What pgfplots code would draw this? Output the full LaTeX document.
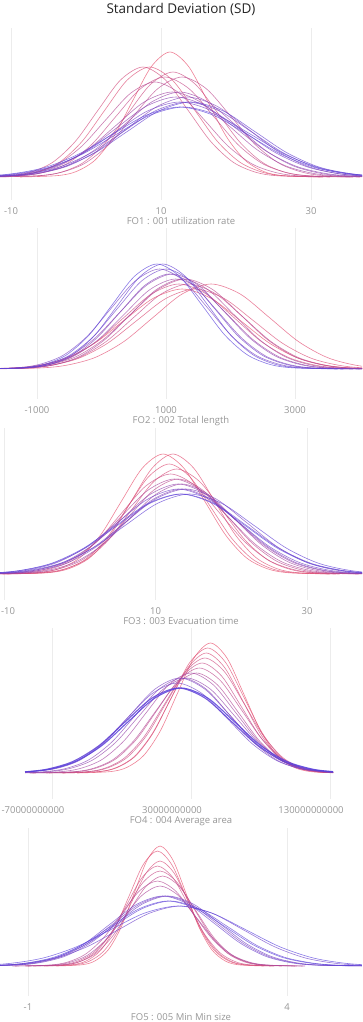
\documentclass[border=0pt]{standalone}
\usepackage{fontspec}
\setmainfont{Open Sans}
\usepackage{pgfplots}
\pgfplotsset{compat=1.18}
\definecolor{sdR}{RGB}{232,76,106}
\definecolor{sdB}{RGB}{88,64,220}
\definecolor{lblgray}{RGB}{150,150,150}
\definecolor{gridgray}{RGB}{236,236,236}
\definecolor{titlecol}{RGB}{37,37,37}
\pgfplotsset{
  cv/.style={smooth, line width=0.6pt, draw opacity=0.7, draw=sdB!#1!sdR, mark=none},
  cvthick/.style={smooth, line width=1.1pt, draw opacity=0.85, draw=sdB!#1!sdR, mark=none},
  sdpanel/.style={
    anchor=north west, scale only axis, width=362pt,
    axis line style={draw=none}, major tick length=0pt,
    ytick=\empty, xmajorgrids, major grid style={gridgray, line width=0.7pt},
    tick label style={font=\fontsize{9.5}{11}\selectfont, text=lblgray},
    xticklabel style={anchor=base, yshift=-14.5pt},
    xlabel style={at={(axis description cs:0.5,0)}, anchor=base, yshift=-24.5pt, font=\fontsize{9.5}{11}\selectfont, text=lblgray},
  },
}
\begin{document}
\begin{tikzpicture}
\useasboundingbox (0,0) rectangle (362pt,-1022pt);
\clip (0,0) rectangle (362pt,-1022pt);
\node[anchor=base, font=\fontsize{13.5}{15}\selectfont, text=titlecol] at (181pt,-13.5pt) {Standard Deviation (SD)};

% ---------------- Panel 1
\begin{axis}[sdpanel, at={(0pt,-28pt)}, height=172pt, xmin=-11.467, xmax=36.8, ymin=-23, ymax=149,
  xtick={-10,10,30}, xticklabels={-10,10,30}, xlabel={FO1 : 001 utilization rate}]
\addplot[cv=0] coordinates {(-8.8,0) (-3.8,1.4) (-1.3,5.5) (1.2,16.9) (3.7,40.6) (6.2,75.9) (8.7,110.3) (11.2,125) (13.7,110.3) (16.2,75.9) (18.7,40.6) (21.2,16.9) (23.7,5.5) (26.2,1.4) (31.2,0)};
\addplot[cv=8] coordinates {(-15.5,0) (-9.5,1.2) (-6.5,4.8) (-3.5,14.9) (-0.5,35.8) (2.5,66.8) (5.5,97.0) (8.5,110) (11.5,97.0) (14.5,66.8) (17.5,35.8) (20.5,14.9) (23.5,4.8) (26.5,1.2) (32.5,0)};
\addplot[cv=15] coordinates {(-16.4,0) (-10.4,1.2) (-7.4,4.8) (-4.4,14.9) (-1.4,35.8) (1.6,66.8) (4.6,97.0) (7.6,110) (10.6,97.0) (13.6,66.8) (16.6,35.8) (19.6,14.9) (22.6,4.8) (25.6,1.2) (31.6,0)};
\addplot[cv=20] coordinates {(-12.4,0) (-6.4,1.2) (-3.4,4.6) (-0.4,14.2) (2.6,34.1) (5.6,63.7) (8.6,92.6) (11.6,105) (14.6,92.6) (17.6,63.7) (20.6,34.1) (23.6,14.2) (26.6,4.6) (29.6,1.2) (35.6,0)};
\addplot[cv=25] coordinates {(-15.5,0) (-9,1.1) (-5.75,4.4) (-2.5,13.5) (0.75,32.5) (4,60.7) (7.25,88.2) (10.5,100) (13.75,88.2) (17,60.7) (20.25,32.5) (23.5,13.5) (26.75,4.4) (30,1.1) (36.5,0)};
\addplot[cv=30] coordinates {(-13.2,0) (-6.7,1.1) (-3.45,4.4) (-0.2,13.5) (3.05,32.5) (6.3,60.7) (9.55,88.2) (12.8,100) (16.05,88.2) (19.3,60.7) (22.55,32.5) (25.8,13.5) (29.05,4.4) (32.3,1.1) (38.8,0)};
\addplot[cv=35] coordinates {(-16.8,0) (-10.3,1.0) (-7.05,4.2) (-3.8,12.8) (-0.55,30.9) (2.7,57.7) (5.95,83.8) (9.2,95) (12.45,83.8) (15.7,57.7) (18.95,30.9) (22.2,12.8) (25.45,4.2) (28.7,1.0) (35.2,0)};
\addplot[cv=50] coordinates {(-18.5,0) (-11,0.9) (-7.25,3.7) (-3.5,11.5) (0.25,27.6) (4,51.6) (7.75,75.0) (11.5,85) (15.25,75.0) (19,51.6) (22.75,27.6) (26.5,11.5) (30.25,3.7) (34,0.9) (41.5,0)};
\addplot[cv=55] coordinates {(-17.5,0) (-10,0.9) (-6.25,3.7) (-2.5,11.5) (1.25,27.6) (5,51.6) (8.75,75.0) (12.5,85) (16.25,75.0) (20,51.6) (23.75,27.6) (27.5,11.5) (31.25,3.7) (35,0.9) (42.5,0)};
\addplot[cv=65] coordinates {(-20,0) (-12,0.9) (-8,3.5) (-4,10.8) (0,26.0) (4,48.6) (8,70.6) (12,80) (16,70.6) (20,48.6) (24,26.0) (28,10.8) (32,3.5) (36,0.9) (44,0)};
\addplot[cv=70] coordinates {(-18.5,0) (-10.5,0.9) (-6.5,3.5) (-2.5,10.8) (1.5,26.0) (5.5,48.6) (9.5,70.6) (13.5,80) (17.5,70.6) (21.5,48.6) (25.5,26.0) (29.5,10.8) (33.5,3.5) (37.5,0.9) (45.5,0)};
\addplot[cv=80] coordinates {(-21.5,0) (-13,0.8) (-8.75,3.3) (-4.5,10.1) (-0.25,24.4) (4,45.5) (8.25,66.2) (12.5,75) (16.75,66.2) (21,45.5) (25.25,24.4) (29.5,10.1) (33.75,3.3) (38,0.8) (46.5,0)};
\addplot[cv=85] coordinates {(-20.5,0) (-12,0.8) (-7.75,3.3) (-3.5,10.1) (0.75,24.4) (5,45.5) (9.25,66.2) (13.5,75) (17.75,66.2) (22,45.5) (26.25,24.4) (30.5,10.1) (34.75,3.3) (39,0.8) (47.5,0)};
\addplot[cv=90] coordinates {(-20,0) (-11.5,0.8) (-7.25,3.3) (-3,10.1) (1.25,24.4) (5.5,45.5) (9.75,66.2) (14,75) (18.25,66.2) (22.5,45.5) (26.75,24.4) (31,10.1) (35.25,3.3) (39.5,0.8) (48,0)};
\addplot[cv=95] coordinates {(-23,0) (-14,0.8) (-9.5,3.1) (-5,9.5) (-0.5,22.8) (4,42.5) (8.5,61.7) (13,70) (17.5,61.7) (22,42.5) (26.5,22.8) (31,9.5) (35.5,3.1) (40,0.8) (49,0)};
\addplot[cv=100] coordinates {(-23.5,0) (-14.5,0.8) (-10,3.1) (-5.5,9.5) (-1,22.8) (3.5,42.5) (8,61.7) (12.5,70) (17,61.7) (21.5,42.5) (26,22.8) (30.5,9.5) (35,3.1) (39.5,0.8) (48.5,0)};
\end{axis}

% ---------------- Panel 2
\begin{axis}[sdpanel, at={(0pt,-228pt)}, height=171pt, xmin=-1573.6, xmax=4038.8, ymin=-30, ymax=141,
  xtick={-1000,1000,3000}, xticklabels={-1000,1000,3000}, xlabel={FO2 : 002 Total length}]
\addplot[cv=0] coordinates {(-2350,0) (-1450,0.9) (-1000,3.5) (-550,10.8) (-100,26.0) (350,48.6) (800,70.6) (1250,80) (1700,70.6) (2150,48.6) (2600,26.0) (3050,10.8) (3500,3.5) (3950,0.9) (4850,0)};
\addplot[cv=5] coordinates {(-1900,0) (-1000,0.9) (-550,3.7) (-100,11.5) (350,27.6) (800,51.6) (1250,75.0) (1700,85) (2150,75.0) (2600,51.6) (3050,27.6) (3500,11.5) (3950,3.7) (4400,0.9) (5300,0)};
\addplot[cv=10] coordinates {(-2150,0) (-1250,0.9) (-800,3.5) (-350,10.8) (100,26.0) (550,48.6) (1000,70.6) (1450,80) (1900,70.6) (2350,48.6) (2800,26.0) (3250,10.8) (3700,3.5) (4150,0.9) (5050,0)};
\addplot[cv=18] coordinates {(-2200,0) (-1350,0.9) (-925,3.7) (-500,11.5) (-75,27.6) (350,51.6) (775,75.0) (1200,85) (1625,75.0) (2050,51.6) (2475,27.6) (2900,11.5) (3325,3.7) (3750,0.9) (4600,0)};
\addplot[cv=25] coordinates {(-2050,0) (-1200,0.9) (-775,3.7) (-350,11.5) (75,27.6) (500,51.6) (925,75.0) (1350,85) (1775,75.0) (2200,51.6) (2625,27.6) (3050,11.5) (3475,3.7) (3900,0.9) (4750,0)};
\addplot[cv=32] coordinates {(-2100,0) (-1250,1.0) (-825,4.0) (-400,12.2) (25,29.3) (450,54.6) (875,79.4) (1300,90) (1725,79.4) (2150,54.6) (2575,29.3) (3000,12.2) (3425,4.0) (3850,1.0) (4700,0)};
\addplot[cv=42] coordinates {(-1950,0) (-1150,1.0) (-750,4.0) (-350,12.2) (50,29.3) (450,54.6) (850,79.4) (1250,90) (1650,79.4) (2050,54.6) (2450,29.3) (2850,12.2) (3250,4.0) (3650,1.0) (4450,0)};
\addplot[cv=52] coordinates {(-2050,0) (-1250,1.0) (-850,4.0) (-450,12.2) (-50,29.3) (350,54.6) (750,79.4) (1150,90) (1550,79.4) (1950,54.6) (2350,29.3) (2750,12.2) (3150,4.0) (3550,1.0) (4350,0)};
\addplot[cv=62] coordinates {(-2100,0) (-1300,1.0) (-900,4.2) (-500,12.8) (-100,30.9) (300,57.7) (700,83.8) (1100,95) (1500,83.8) (1900,57.7) (2300,30.9) (2700,12.8) (3100,4.2) (3500,1.0) (4300,0)};
\addplot[cv=70] coordinates {(-1950,0) (-1200,1.0) (-825,4.2) (-450,12.8) (-75,30.9) (300,57.7) (675,83.8) (1050,95) (1425,83.8) (1800,57.7) (2175,30.9) (2550,12.8) (2925,4.2) (3300,1.0) (4050,0)};
\addplot[cv=78] coordinates {(-2100,0) (-1350,1.1) (-975,4.4) (-600,13.5) (-225,32.5) (150,60.7) (525,88.2) (900,100) (1275,88.2) (1650,60.7) (2025,32.5) (2400,13.5) (2775,4.4) (3150,1.1) (3900,0)};
\addplot[cv=85] coordinates {(-2000,0) (-1250,1.1) (-875,4.4) (-500,13.5) (-125,32.5) (250,60.7) (625,88.2) (1000,100) (1375,88.2) (1750,60.7) (2125,32.5) (2500,13.5) (2875,4.4) (3250,1.1) (4000,0)};
\addplot[cv=92] coordinates {(-1850,0) (-1150,1.2) (-800,4.6) (-450,14.2) (-100,34.1) (250,63.7) (600,92.6) (950,105) (1300,92.6) (1650,63.7) (2000,34.1) (2350,14.2) (2700,4.6) (3050,1.2) (3750,0)};
\addplot[cv=100] coordinates {(-1940,0) (-1240,1.2) (-890,4.6) (-540,14.2) (-190,34.1) (160,63.7) (510,92.6) (860,105) (1210,92.6) (1560,63.7) (1910,34.1) (2260,14.2) (2610,4.6) (2960,1.2) (3660,0)};
\end{axis}

% ---------------- Panel 3
\begin{axis}[sdpanel, at={(0pt,-428pt)}, height=172pt, xmin=-10.53, xmax=37.26, ymin=-26, ymax=146,
  xtick={-10,10,30}, xticklabels={\makebox[0pt][l]{\hspace{-3pt}-10},10,30}, xlabel={FO3 : 003 Evacuation time}]
\addplot[cv=0] coordinates {(-11,0) (-5.5,1.3) (-2.75,5.3) (0,16.2) (2.75,39.0) (5.5,72.8) (8.25,105.8) (11,120) (13.75,105.8) (16.5,72.8) (19.25,39.0) (22,16.2) (24.75,5.3) (27.5,1.3) (33,0)};
\addplot[cv=5] coordinates {(-9.7,0) (-4.2,1.3) (-1.45,5.3) (1.3,16.2) (4.05,39.0) (6.8,72.8) (9.55,105.8) (12.3,120) (15.05,105.8) (17.8,72.8) (20.55,39.0) (23.3,16.2) (26.05,5.3) (28.8,1.3) (34.3,0)};
\addplot[cv=8] coordinates {(-10.2,0) (-4.7,1.2) (-1.95,4.8) (0.8,14.9) (3.55,35.8) (6.3,66.8) (9.05,97.0) (11.8,110) (14.55,97.0) (17.3,66.8) (20.05,35.8) (22.8,14.9) (25.55,4.8) (28.3,1.2) (33.8,0)};
\addplot[cv=12] coordinates {(-11.2,0) (-5.2,1.2) (-2.2,4.6) (0.8,14.2) (3.8,34.1) (6.8,63.7) (9.8,92.6) (12.8,105) (15.8,92.6) (18.8,63.7) (21.8,34.1) (24.8,14.2) (27.8,4.6) (30.8,1.2) (36.8,0)};
\addplot[cv=20] coordinates {(-14,0) (-7.5,1.1) (-4.25,4.4) (-1,13.5) (2.25,32.5) (5.5,60.7) (8.75,88.2) (12,100) (15.25,88.2) (18.5,60.7) (21.75,32.5) (25,13.5) (28.25,4.4) (31.5,1.1) (38,0)};
\addplot[cv=30] coordinates {(-13,0) (-6.5,1.0) (-3.25,4.2) (0,12.8) (3.25,30.9) (6.5,57.7) (9.75,83.8) (13,95) (16.25,83.8) (19.5,57.7) (22.75,30.9) (26,12.8) (29.25,4.2) (32.5,1.0) (39,0)};
\addplot[cv=40] coordinates {(-15.5,0) (-8.5,1.0) (-5,4.2) (-1.5,12.8) (2,30.9) (5.5,57.7) (9,83.8) (12.5,95) (16,83.8) (19.5,57.7) (23,30.9) (26.5,12.8) (30,4.2) (33.5,1.0) (40.5,0)};
\addplot[cv=50] coordinates {(-14.5,0) (-7.5,1.0) (-4,4.0) (-0.5,12.2) (3,29.3) (6.5,54.6) (10,79.4) (13.5,90) (17,79.4) (20.5,54.6) (24,29.3) (27.5,12.2) (31,4.0) (34.5,1.0) (41.5,0)};
\addplot[cv=60] coordinates {(-17,0) (-9.5,1.0) (-5.75,4.0) (-2,12.2) (1.75,29.3) (5.5,54.6) (9.25,79.4) (13,90) (16.75,79.4) (20.5,54.6) (24.25,29.3) (28,12.2) (31.75,4.0) (35.5,1.0) (43,0)};
\addplot[cv=68] coordinates {(-16.5,0) (-9,0.9) (-5.25,3.7) (-1.5,11.5) (2.25,27.6) (6,51.6) (9.75,75.0) (13.5,85) (17.25,75.0) (21,51.6) (24.75,27.6) (28.5,11.5) (32.25,3.7) (36,0.9) (43.5,0)};
\addplot[cv=75] coordinates {(-18,0) (-10,0.9) (-6,3.7) (-2,11.5) (2,27.6) (6,51.6) (10,75.0) (14,85) (18,75.0) (22,51.6) (26,27.6) (30,11.5) (34,3.7) (38,0.9) (46,0)};
\addplot[cv=82] coordinates {(-19,0) (-11,0.9) (-7,3.7) (-3,11.5) (1,27.6) (5,51.6) (9,75.0) (13,85) (17,75.0) (21,51.6) (25,27.6) (29,11.5) (33,3.7) (37,0.9) (45,0)};
\addplot[cv=88] coordinates {(-20.5,0) (-12,0.9) (-7.75,3.5) (-3.5,10.8) (0.75,26.0) (5,48.6) (9.25,70.6) (13.5,80) (17.75,70.6) (22,48.6) (26.25,26.0) (30.5,10.8) (34.75,3.5) (39,0.9) (47.5,0)};
\addplot[cv=94] coordinates {(-19.5,0) (-11,0.9) (-6.75,3.5) (-2.5,10.8) (1.75,26.0) (6,48.6) (10.25,70.6) (14.5,80) (18.75,70.6) (23,48.6) (27.25,26.0) (31.5,10.8) (35.75,3.5) (40,0.9) (48.5,0)};
\addplot[cv=100] coordinates {(-20.7,0) (-12.2,0.9) (-7.95,3.5) (-3.7,10.8) (0.55,26.0) (4.8,48.6) (9.05,70.6) (13.3,80) (17.55,70.6) (21.8,48.6) (26.05,26.0) (30.3,10.8) (34.55,3.5) (38.8,0.9) (47.3,0)};
\end{axis}

% ---------------- Panel 4 (x in units of 1e9)
\begin{axis}[sdpanel, at={(0pt,-628pt)}, height=171pt, xmin=-107.4, xmax=153.0, ymin=-26, ymax=145,
  xtick={-70,30,130}, xticklabels={-70000000000,30000000000,130000000000},
  xticklabel style={xshift=-19pt}, xlabel={FO4 : 004 Average area}]
\addplot[cv=0] coordinates {(-52,0) (-28,1.4) (-16,5.7) (-4,17.6) (8,42.3) (20,78.9) (32,114.7) (44,130) (56,114.7) (68,78.9) (80,42.3) (92,17.6) (104,5.7) (116,1.4) (132.2,0.2)};
\addplot[cv=6] coordinates {(-62,0) (-36,1.4) (-23,5.5) (-10,16.9) (3,40.6) (16,75.9) (29,110.3) (42,125) (55,110.3) (68,75.9) (81,40.6) (94,16.9) (107,5.5) (120,1.4) (132.2,0.3)};
\addplot[cv=12] coordinates {(-63,0) (-37,1.3) (-24,5.3) (-11,16.2) (2,39.0) (15,72.8) (28,105.8) (41,120) (54,105.8) (67,72.8) (80,39.0) (93,16.2) (106,5.3) (119,1.3) (132.2,0.3)};
\addplot[cv=18] coordinates {(-72,0) (-44,1.3) (-30,5.1) (-16,15.5) (-2,37.4) (12,69.8) (26,101.4) (40,115) (54,101.4) (68,69.8) (82,37.4) (96,15.5) (110,5.1) (124,1.3) (132.2,0.5)};
\addplot[cv=24] coordinates {(-74,0) (-46,1.2) (-32,4.8) (-18,14.9) (-4,35.8) (10,66.8) (24,97.0) (38,110) (52,97.0) (66,66.8) (80,35.8) (94,14.9) (108,4.8) (122,1.2) (132.2,0.4)};
\addplot[cv=30] coordinates {(-84,0) (-54,1.2) (-39,4.6) (-24,14.2) (-9,34.1) (6,63.7) (21,92.6) (36,105) (51,92.6) (66,63.7) (81,34.1) (96,14.2) (111,4.6) (126,1.2) (132.2,0.6)};
\addplot[cv=38] coordinates {(-86,0) (-56,1.1) (-41,4.4) (-26,13.5) (-11,32.5) (4,60.7) (19,88.2) (34,100) (49,88.2) (64,60.7) (79,32.5) (94,13.5) (109,4.4) (124,1.1) (132.2,0.5)};
\addplot[cv=48] coordinates {(-89.4,0.1) (-66,1.1) (-50,4.4) (-34,13.5) (-18,32.5) (-2,60.7) (14,88.2) (30,100) (46,88.2) (62,60.7) (78,32.5) (94,13.5) (110,4.4) (126,1.1) (132.2,0.6)};
\addplot[cv=58] coordinates {(-89.4,0.3) (-75,1.0) (-58,4.2) (-41,12.8) (-24,30.9) (-7,57.7) (10,83.8) (27,95) (44,83.8) (61,57.7) (78,30.9) (95,12.8) (112,4.2) (129,1.0) (132.2,0.8)};
\addplot[cv=68] coordinates {(-89.4,0.4) (-78,1.0) (-61,4.2) (-44,12.8) (-27,30.9) (-10,57.7) (7,83.8) (24,95) (41,83.8) (58,57.7) (75,30.9) (92,12.8) (109,4.2) (126,1.0) (132.2,0.6)};
\addplot[cv=76] coordinates {(-89.4,0.9) (-68,4.2) (-50,12.8) (-32,30.9) (-14,57.7) (4,83.8) (22,95) (40,83.8) (58,57.7) (76,30.9) (94,12.8) (112,4.2) (132.2,0.9)};
\addplot[cv=84] coordinates {(-89.4,0.9) (-70,4.0) (-52,12.2) (-34,29.3) (-16,54.6) (2,79.4) (20,90) (38,79.4) (56,54.6) (74,29.3) (92,12.2) (110,4.0) (132.2,0.7)};
\addplot[cvthick=95] coordinates {(-89.4,1.2) (-74,3.7) (-55,11.5) (-36,27.6) (-17,51.6) (2,75.0) (21,85) (40,75.0) (59,51.6) (78,27.6) (97,11.5) (116,3.7) (132.2,1.2)};
\addplot[cvthick=100] coordinates {(-89.4,1.1) (-72,3.7) (-53,11.5) (-34,27.6) (-15,51.6) (4,75.0) (23,85) (42,75.0) (61,51.6) (80,27.6) (99,11.5) (118,3.7) (132.2,1.4)};
\end{axis}

% ---------------- Panel 5
\begin{axis}[sdpanel, at={(0pt,-828pt)}, height=168pt, xmin=-1.54, xmax=5.448, ymin=-30, ymax=138,
  xtick={-1,4}, xticklabels={-1,4}, xlabel={FO5 : 005 Min Min size}]
\addplot[cv=0] coordinates {(-0.45,0) (0.05,1.3) (0.3,5.3) (0.55,16.2) (0.8,39.0) (1.05,72.8) (1.3,105.8) (1.55,120) (1.8,105.8) (2.05,72.8) (2.3,39.0) (2.55,16.2) (2.8,5.3) (3.05,1.3) (3.55,0)};
\addplot[cv=6] coordinates {(-0.7,0) (-0.15,1.3) (0.125,5.1) (0.4,15.5) (0.675,37.4) (0.95,69.8) (1.225,101.4) (1.5,115) (1.775,101.4) (2.05,69.8) (2.325,37.4) (2.6,15.5) (2.875,5.1) (3.15,1.3) (3.7,0)};
\addplot[cv=12] coordinates {(-0.65,0) (-0.1,1.2) (0.175,4.6) (0.45,14.2) (0.725,34.1) (1.0,63.7) (1.275,92.6) (1.55,105) (1.825,92.6) (2.1,63.7) (2.375,34.1) (2.65,14.2) (2.925,4.6) (3.2,1.2) (3.75,0)};
\addplot[cv=18] coordinates {(-0.9,0) (-0.3,1.1) (0,4.4) (0.3,13.5) (0.6,32.5) (0.9,60.7) (1.2,88.2) (1.5,100) (1.8,88.2) (2.1,60.7) (2.4,32.5) (2.7,13.5) (3.0,4.4) (3.3,1.1) (3.9,0)};
\addplot[cv=24] coordinates {(-1.05,0) (-0.4,1.0) (-0.075,4.2) (0.25,12.8) (0.575,30.9) (0.9,57.7) (1.225,83.8) (1.55,95) (1.875,83.8) (2.2,57.7) (2.525,30.9) (2.85,12.8) (3.175,4.2) (3.5,1.0) (4.15,0)};
\addplot[cv=30] coordinates {(-1.0,0) (-0.35,1.0) (-0.025,4.0) (0.3,12.2) (0.625,29.3) (0.95,54.6) (1.275,79.4) (1.6,90) (1.925,79.4) (2.25,54.6) (2.575,29.3) (2.9,12.2) (3.225,4.0) (3.55,1.0) (4.2,0)};
\addplot[cv=36] coordinates {(-1.3,0) (-0.6,0.9) (-0.25,3.7) (0.1,11.5) (0.45,27.6) (0.8,51.6) (1.15,75.0) (1.5,85) (1.85,75.0) (2.2,51.6) (2.55,27.6) (2.9,11.5) (3.25,3.7) (3.6,0.9) (4.3,0)};
\addplot[cv=42] coordinates {(-1.25,0) (-0.55,0.9) (-0.2,3.5) (0.15,10.8) (0.5,26.0) (0.85,48.6) (1.2,70.6) (1.55,80) (1.9,70.6) (2.25,48.6) (2.6,26.0) (2.95,10.8) (3.3,3.5) (3.65,0.9) (4.35,0)};
\addplot[cv=75] coordinates {(-2.35,0) (-1.35,0.8) (-0.85,3.1) (-0.35,9.5) (0.15,22.8) (0.65,42.5) (1.15,61.7) (1.65,70) (2.15,61.7) (2.65,42.5) (3.15,22.8) (3.65,9.5) (4.15,3.1) (4.65,0.8) (5.65,0)};
\addplot[cv=82] coordinates {(-2.3,0) (-1.3,0.8) (-0.8,3.1) (-0.3,9.5) (0.2,22.8) (0.7,42.5) (1.2,61.7) (1.7,70) (2.2,61.7) (2.7,42.5) (3.2,22.8) (3.7,9.5) (4.2,3.1) (4.7,0.8) (5.7,0)};
\addplot[cv=88] coordinates {(-2.4,0) (-1.4,0.8) (-0.9,3.1) (-0.4,9.5) (0.1,22.8) (0.6,42.5) (1.1,61.7) (1.6,70) (2.1,61.7) (2.6,42.5) (3.1,22.8) (3.6,9.5) (4.1,3.1) (4.6,0.8) (5.6,0)};
\addplot[cv=94] coordinates {(-2.65,0) (-1.55,0.7) (-1.0,2.9) (-0.45,8.8) (0.1,21.1) (0.65,39.5) (1.2,57.3) (1.75,65) (2.3,57.3) (2.85,39.5) (3.4,21.1) (3.95,8.8) (4.5,2.9) (5.05,0.7) (6.15,0)};
\addplot[cv=100] coordinates {(-2.7,0) (-1.6,0.7) (-1.05,2.9) (-0.5,8.8) (0.05,21.1) (0.6,39.5) (1.15,57.3) (1.7,65) (2.25,57.3) (2.8,39.5) (3.35,21.1) (3.9,8.8) (4.45,2.9) (5.0,0.7) (6.1,0)};
\addplot[cv=85] coordinates {(-2.85,0) (-1.65,0.7) (-1.05,2.6) (-0.45,8.1) (0.15,19.5) (0.75,36.4) (1.35,52.9) (1.95,60) (2.55,52.9) (3.15,36.4) (3.75,19.5) (4.35,8.1) (4.95,2.6) (5.55,0.7) (6.75,0)};
\addplot[cv=100] coordinates {(-3.3,0) (-2.0,0.7) (-1.35,2.6) (-0.7,8.1) (-0.05,19.5) (0.6,36.4) (1.25,52.9) (1.9,60) (2.55,52.9) (3.2,36.4) (3.85,19.5) (4.5,8.1) (5.15,2.6) (5.8,0.7) (7.1,0)};
\end{axis}
\end{tikzpicture}
\end{document}
